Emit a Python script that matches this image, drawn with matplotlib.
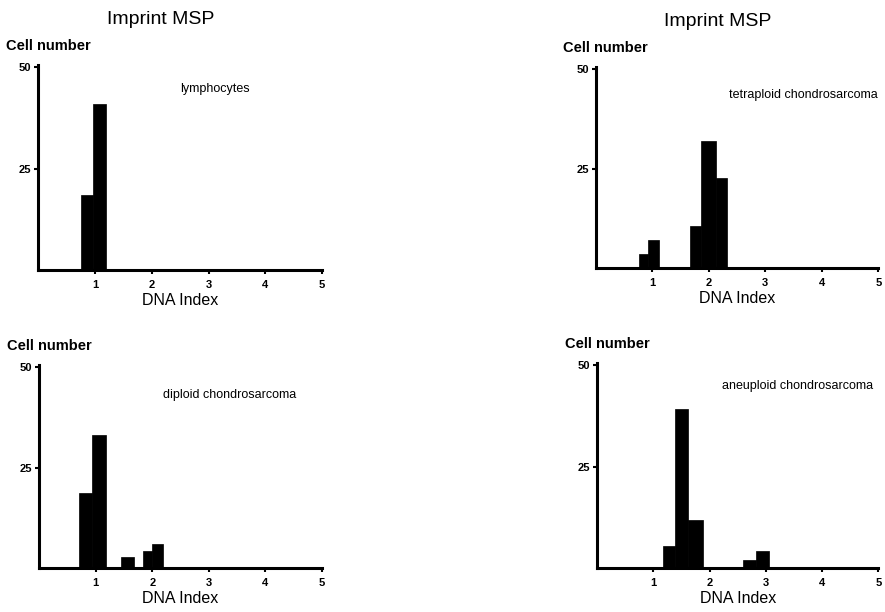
import matplotlib
matplotlib.use("Agg")
import matplotlib.pyplot as plt

plt.rcParams['font.family'] = ['Liberation Sans', 'DejaVu Sans']

# DNA index bins (left edge, right edge) and cell counts
lymph_lo = [0.75, 0.965]
lymph_hi = [0.965, 1.19]
lymph_n = [18.5, 40.8]

tetra_lo = [0.765, 0.93, 1.67, 1.87, 2.12]
tetra_hi = [0.93, 1.12, 1.87, 2.12, 2.32]
tetra_n = [3.7, 7.1, 10.6, 32, 22.5]

dipl_lo = [0.70, 0.93, 1.45, 1.84, 2.0]
dipl_hi = [0.93, 1.175, 1.67, 2.0, 2.19]
dipl_n = [18.7, 33, 2.7, 4.2, 6.1]

aneu_lo = [1.17, 1.39, 1.62, 2.6, 2.82]
aneu_hi = [1.39, 1.62, 1.875, 2.82, 3.05]
aneu_n = [5.5, 39.2, 12, 2, 4.3]

panel_names = ["lymphocytes", "tetraploid chondrosarcoma",
               "diploid chondrosarcoma", "aneuploid chondrosarcoma"]
x_ticks = [1, 2, 3, 4, 5]
y_ticks = [25, 50]

fig = plt.figure(figsize=(8.85, 6.12), dpi=100)

panels = [
    (lymph_lo, lymph_hi, lymph_n, [0.0435, 0.5588, 0.3203, 0.335], (2.5, 44.6), True),
    (tetra_lo, tetra_hi, tetra_n, [0.6732, 0.5616, 0.3192, 0.3294], (2.36, 43.5), True),
    (dipl_lo, dipl_hi, dipl_n, [0.0444, 0.0714, 0.3191, 0.3322], (2.19, 43.1), False),
    (aneu_lo, aneu_hi, aneu_n, [0.6749, 0.0714, 0.3175, 0.335], (2.22, 45), False),
]

for (lo, hi, n, rect, txt_pos, top), name in zip(panels, panel_names):
    ax = fig.add_axes(rect)
    widths = [h - l for l, h in zip(lo, hi)]
    ax.bar(lo, n, width=widths, align='edge', color='black', edgecolor='black', linewidth=0.5)
    ax.set_xlim(0, 5)
    ax.set_ylim(0, 50.5)
    ax.set_xticks(x_ticks)
    ax.set_yticks(y_ticks)
    ax.set_xticklabels([str(t) for t in x_ticks], fontsize=8, fontweight='bold')
    ax.set_yticklabels([str(t) for t in y_ticks], fontsize=8, fontweight='bold')
    ax.tick_params(direction='out', length=3, width=1.5, pad=2)
    ax.tick_params(axis='x', pad=4)
    for s in ['top', 'right']:
        ax.spines[s].set_visible(False)
    for s in ['left', 'bottom']:
        ax.spines[s].set_linewidth(2.2)
    ax.set_xlabel("DNA Index", fontsize=11.5, labelpad=2)
    ax.text(-0.115, 1.06, "Cell number", transform=ax.transAxes, fontsize=10.5,
            fontweight='bold', ha='left', va='bottom')
    ax.text(txt_pos[0], txt_pos[1], name, fontsize=9, ha='left', va='center')
    if top:
        ax.text(0.43, 1.18, "Imprint MSP", transform=ax.transAxes, fontsize=14,
                ha='center', va='bottom')

fig.savefig("out.png", dpi=100)
